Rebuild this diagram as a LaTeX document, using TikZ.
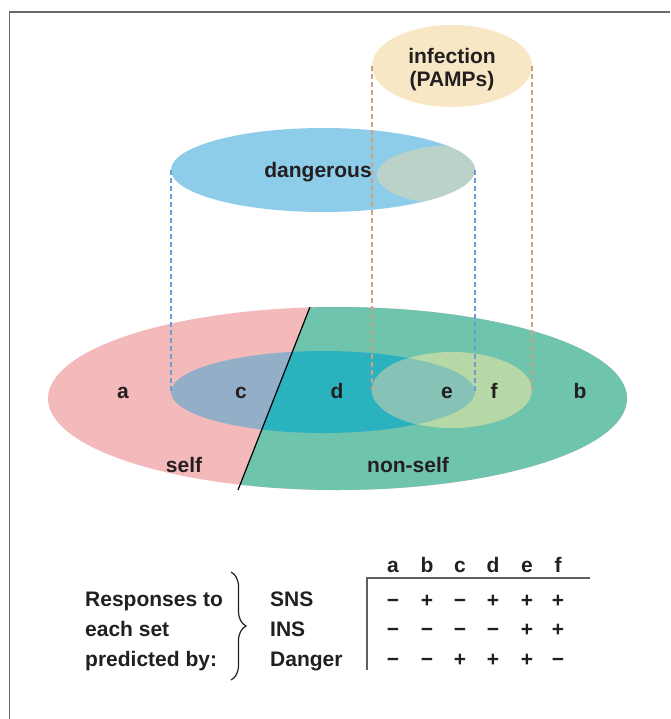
\documentclass[tikz,border=0pt]{standalone}
\usepackage{fontspec}
\setmainfont{Liberation Sans}
\usetikzlibrary{shapes.geometric,decorations.pathreplacing}
\definecolor{selfcol}{HTML}{F4B9BA}
\definecolor{nonselfcol}{HTML}{6FC4AE}
\definecolor{dangself}{HTML}{93AFC8}
\definecolor{dangnon}{HTML}{2AB3BF}
\definecolor{infnon}{HTML}{B5D8A6}
\definecolor{infdang}{HTML}{86C2B6}
\definecolor{dangtop}{HTML}{8DCDEA}
\definecolor{inftop}{HTML}{F8E7C4}
\definecolor{overtop}{HTML}{BBD2C9}
\definecolor{bluedash}{HTML}{6A9FD2}
\definecolor{tandash}{HTML}{D0A081}
\definecolor{txt}{HTML}{231F20}
\definecolor{framecol}{HTML}{6A6A6A}
\begin{document}
\begin{tikzpicture}[x=1pt,y=-1pt,
  lab/.style={font=\fontsize{21}{23}\selectfont\bfseries, text=txt, inner sep=0pt, anchor=base},
  lableft/.style={lab, anchor=base west},
  sign/.style={lab},
  oval/.style={ellipse, inner sep=0pt, outer sep=0pt},
  dashblue/.style={draw=bluedash, line width=1.3pt, dash pattern=on 5pt off 3pt},
  dashtan/.style={draw=tandash, line width=1.3pt, dash pattern=on 5pt off 3pt},
  rule/.style={draw=framecol!90!black, line width=1.3pt}]
\useasboundingbox (0,0) rectangle (670,719);
% frame
\coordinate (frBL) at (9.5,719);
\coordinate (frTL) at (9.5,12);
\coordinate (frTR) at (670,12);
\draw[framecol, line width=1.6pt] (frBL) -- (frTL) -- (frTR);

% big ellipse: self / non-self
\fill[selfcol] (337.5,398.5) ellipse [x radius=289.5, y radius=91.5];
\coordinate (divT) at (310,307);
\coordinate (divB) at (238,490);
\begin{scope}
  \clip (316.7,290) -- (700,290) -- (700,510) -- (230,510) -- cycle;
  \fill[nonselfcol] (337.5,398.5) ellipse [x radius=289.5, y radius=91.5];
\end{scope}
% projected dangerous set
\node[oval, fill=dangself, minimum width=304pt, minimum height=82pt] (innerD) at (323,392) {};
\begin{scope}
  \clip (316.7,290) -- (700,290) -- (700,510) -- (230,510) -- cycle;
  \fill[dangnon] (323,392) ellipse [x radius=152, y radius=41];
\end{scope}
% projected infection set
\node[oval, fill=infnon, minimum width=160pt, minimum height=76pt] (infP) at (452,390) {};
\begin{scope}
  \clip (323,392) ellipse [x radius=152, y radius=41];
  \fill[infdang] (452,390) ellipse [x radius=80, y radius=38];
\end{scope}
\draw[black, line width=1.2pt] (divT) -- (divB);

% top: dangerous
\node[oval, fill=dangtop, minimum width=304pt, minimum height=84pt] (dang) at (323,170) {};
\begin{scope}
  \clip (323,170) ellipse [x radius=152, y radius=42];
  \fill[overtop] (457,175) ellipse [x radius=80, y radius=30];
\end{scope}
\node[lab] (dangtxt) at (318,178) {dangerous};

% top: infection
\node[oval, fill=inftop, minimum width=160pt, minimum height=82pt] (inf) at (452,66) {};
\node[lab] (inftxt1) at (452,64) {infection};
\node[lab] (inftxt2) at (452,87) {(PAMPs)};

% projection lines
\draw[dashblue] (dang.west) -- (innerD.west);
\draw[dashblue] (dang.east) -- (innerD.east);
\draw[dashtan] (inf.west) -- (infP.west);
\draw[dashtan] (inf.east) -- (infP.east);

% region labels
\node[lab] (la) at (123,398) {a};
\node[lab] (lc) at (241,398) {c};
\node[lab] (ld) at (337,398) {d};
\node[lab] (le) at (447,398) {e};
\node[lab] (lf) at (494,398) {f};
\node[lab] (lb) at (580,398) {b};
\node[lab] (lself) at (184,472) {self};
\node[lab] (lnon) at (408,472) {non-self};

% lower legend
\node[lableft] (r1) at (85,606) {Responses to};
\node[lableft] (r2) at (85,636) {each set};
\node[lableft] (r3) at (85,666) {predicted by:};
\coordinate (brT) at (231,572);
\coordinate (brB) at (231,680);
\draw[txt, line width=1.2pt, decorate, decoration={brace, amplitude=15pt}] (brT) -- (brB);
\node[lableft] (sns) at (270,606) {SNS};
\node[lableft] (ins) at (270,636) {INS};
\node[lableft] (dgr) at (270,666) {Danger};

% table
\coordinate (tV) at (367,578);
\coordinate (tB) at (367,670);
\coordinate (tR) at (590,578);
\draw[rule] (tB) -- (tV) -- (tR);
\foreach \n/\x in {a/393,b/427,c/460,d/493,e/527,f/558}
  \node[lab] (h\n) at (\x,572) {\n};
% rows: SNS, INS, Danger
\foreach \n/\x/\s in {a/393/−,b/427/+,c/460/−,d/493/+,e/527/+,f/558/+}
  \node[sign] (s1\n) at (\x,607.5) {\s};
\foreach \n/\x/\s in {a/393/−,b/427/−,c/460/−,d/493/−,e/527/+,f/558/+}
  \node[sign] (s2\n) at (\x,636) {\s};
\foreach \n/\x/\s in {a/393/−,b/427/−,c/460/+,d/493/+,e/527/+,f/558/−}
  \node[sign] (s3\n) at (\x,666) {\s};
\end{tikzpicture}
\end{document}
